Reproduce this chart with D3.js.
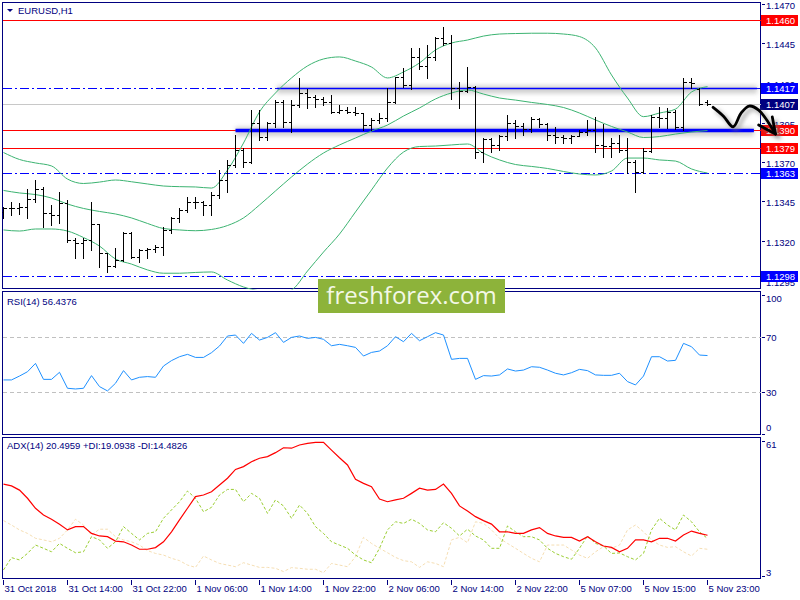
<!DOCTYPE html>
<html>
<head>
<meta charset="utf-8">
<script src="https://cdn.jsdelivr.net/npm/d3@7"></script>
<style>
  html, body { margin: 0; padding: 0; background: #fff; }
  svg { display: block; font-family: "Liberation Sans", Arial, sans-serif; }
</style>
</head>
<body>
<div id="chart"></div>
<script>
//********************************************************************//
//
//                    DATA (EURUSD H1)
//
//*******************************************************************//

  var barOpen = [
    1.13384, 1.13409, 1.13411, 1.13417, 1.13466, 1.13527, 1.13375, 1.13365, 1.13439, 1.13206,
    1.13185, 1.13206, 1.13308, 1.13122, 1.13042, 1.13080, 1.13250, 1.13101, 1.13143, 1.13150,
    1.13164, 1.13270, 1.13344, 1.13396, 1.13449, 1.13445, 1.13430, 1.13491, 1.13586, 1.13681,
    1.13776, 1.13702, 1.13947, 1.13858, 1.13947, 1.14082, 1.13955, 1.14061, 1.14137, 1.14111,
    1.14099, 1.14082, 1.14018, 1.14029, 1.14018, 1.14008, 1.13934, 1.13966, 1.13977, 1.14080,
    1.14235, 1.14187, 1.14366, 1.14310, 1.14366, 1.14483, 1.14451, 1.14166, 1.14149, 1.14177,
    1.13765, 1.13845, 1.13808, 1.13866, 1.13945, 1.13930, 1.13907, 1.13970, 1.13939, 1.13871,
    1.13860, 1.13850, 1.13866, 1.13892, 1.13903, 1.13808, 1.13801, 1.13822, 1.13776, 1.13702,
    1.13639, 1.13772, 1.13983, 1.13977, 1.14018, 1.13923, 1.14208, 1.14160, 1.14080];

  var barHigh = [
    1.13413, 1.13449, 1.13442, 1.13527, 1.13586, 1.13544, 1.13428, 1.13512, 1.13459, 1.13217,
    1.13217, 1.13449, 1.13310, 1.13125, 1.13154, 1.13259, 1.13259, 1.13147, 1.13154, 1.13175,
    1.13291, 1.13354, 1.13407, 1.13480, 1.13480, 1.13452, 1.13512, 1.13649, 1.13713, 1.13871,
    1.13789, 1.14029, 1.14029, 1.13955, 1.14092, 1.14092, 1.14092, 1.14230, 1.14160, 1.14124,
    1.14113, 1.14124, 1.14061, 1.14050, 1.14050, 1.14012, 1.13977, 1.14008, 1.14166, 1.14240,
    1.14293, 1.14420, 1.14420, 1.14441, 1.14493, 1.14553, 1.14504, 1.14206, 1.14303, 1.14180,
    1.13850, 1.13850, 1.13871, 1.13997, 1.13966, 1.13945, 1.13987, 1.13977, 1.13945, 1.13923,
    1.13871, 1.13871, 1.13903, 1.13966, 1.13987, 1.13939, 1.13850, 1.13871, 1.13850, 1.13713,
    1.13787, 1.13997, 1.14050, 1.14040, 1.14029, 1.14230, 1.14230, 1.14166, 1.14092];

  var barLow = [
    1.13344, 1.13365, 1.13369, 1.13344, 1.13449, 1.13291, 1.13301, 1.13312, 1.13196, 1.13091,
    1.13091, 1.13143, 1.13034, 1.13006, 1.13035, 1.13075, 1.13091, 1.13069, 1.13091, 1.13132,
    1.13111, 1.13249, 1.13322, 1.13385, 1.13407, 1.13365, 1.13365, 1.13470, 1.13512, 1.13670,
    1.13670, 1.13695, 1.13839, 1.13839, 1.13923, 1.13923, 1.13892, 1.14050, 1.14040, 1.14050,
    1.14061, 1.14008, 1.14008, 1.14008, 1.13997, 1.13903, 1.13903, 1.13945, 1.13960, 1.14073,
    1.14177, 1.14162, 1.14289, 1.14230, 1.14346, 1.14441, 1.14097, 1.14040, 1.14145, 1.13723,
    1.13702, 1.13765, 1.13776, 1.13839, 1.13850, 1.13871, 1.13892, 1.13923, 1.13839, 1.13822,
    1.13818, 1.13822, 1.13862, 1.13871, 1.13765, 1.13734, 1.13734, 1.13765, 1.13629, 1.13512,
    1.13630, 1.13765, 1.13923, 1.13913, 1.13907, 1.13903, 1.14166, 1.14061, 1.14061];

  var barClose = [
    1.13409, 1.13411, 1.13417, 1.13466, 1.13527, 1.13375, 1.13365, 1.13439, 1.13206, 1.13185,
    1.13206, 1.13308, 1.13122, 1.13042, 1.13080, 1.13250, 1.13101, 1.13143, 1.13150, 1.13164,
    1.13270, 1.13344, 1.13396, 1.13449, 1.13445, 1.13430, 1.13491, 1.13586, 1.13681, 1.13776,
    1.13702, 1.13947, 1.13858, 1.13947, 1.14082, 1.13955, 1.14061, 1.14137, 1.14111, 1.14099,
    1.14082, 1.14018, 1.14029, 1.14018, 1.14008, 1.13934, 1.13966, 1.13977, 1.14080, 1.14235,
    1.14187, 1.14366, 1.14310, 1.14366, 1.14483, 1.14451, 1.14166, 1.14149, 1.14177, 1.13765,
    1.13845, 1.13808, 1.13866, 1.13945, 1.13930, 1.13907, 1.13970, 1.13939, 1.13871, 1.13860,
    1.13850, 1.13866, 1.13892, 1.13903, 1.13808, 1.13801, 1.13822, 1.13776, 1.13702, 1.13639,
    1.13772, 1.13983, 1.13977, 1.14018, 1.13923, 1.14208, 1.14200, 1.14067, 1.14070];

  // Bollinger bands, read every second bar
  var bbStep = 2;
  var bbUpper = [
    1.13760, 1.13716, 1.13694, 1.13675, 1.13592, 1.13564, 1.13573, 1.13586, 1.13575, 1.13561,
    1.13548, 1.13544, 1.13542, 1.13535, 1.13649, 1.13820, 1.14017, 1.14137, 1.14232, 1.14308,
    1.14352, 1.14365, 1.14339, 1.14301, 1.14232, 1.14270, 1.14327, 1.14409, 1.14453, 1.14472,
    1.14497, 1.14510, 1.14513, 1.14515, 1.14515, 1.14510, 1.14494, 1.14422, 1.14251, 1.14105,
    1.13987, 1.14010, 1.14035, 1.14143, 1.14177];
  var bbMiddle = [
    1.13520, 1.13504, 1.13494, 1.13472, 1.13434, 1.13406, 1.13387, 1.13371, 1.13346, 1.13311,
    1.13279, 1.13270, 1.13265, 1.13273, 1.13298, 1.13346, 1.13428, 1.13517, 1.13605, 1.13687,
    1.13757, 1.13808, 1.13852, 1.13896, 1.13934, 1.13991, 1.14042, 1.14099, 1.14137, 1.14156,
    1.14130, 1.14105, 1.14092, 1.14077, 1.14064, 1.14045, 1.14010, 1.13966, 1.13925, 1.13890,
    1.13855, 1.13861, 1.13877, 1.13890, 1.13899];
  var bbLower = [
    1.13270, 1.13263, 1.13276, 1.13276, 1.13263, 1.13222, 1.13168, 1.13086, 1.13054, 1.13017,
    1.12996, 1.12996, 1.13001, 1.13004, 1.12953, 1.12909, 1.12884, 1.12865, 1.12890, 1.13010,
    1.13130, 1.13244, 1.13384, 1.13523, 1.13662, 1.13763, 1.13798, 1.13801, 1.13808, 1.13814,
    1.13755, 1.13713, 1.13684, 1.13672, 1.13659, 1.13640, 1.13624, 1.13618, 1.13643, 1.13725,
    1.13725, 1.13713, 1.13706, 1.13656, 1.13630];

  var rsiValues = [
    38.9, 38.9, 41.7, 44.8, 50.8, 39.3, 39.3, 44.4, 32.9, 32.4,
    32.9, 42.0, 34.1, 31.0, 36.5, 45.6, 38.9, 40.8, 41.3, 40.8,
    48.9, 52.8, 55.6, 57.3, 55.1, 55.1, 58.5, 63.3, 70.5, 71.2,
    65.2, 72.4, 67.6, 69.5, 72.9, 65.9, 69.5, 70.5, 68.8, 69.5,
    68.1, 63.5, 64.5, 63.5, 62.3, 56.1, 58.7, 59.7, 63.5, 70.0,
    66.4, 72.4, 67.1, 70.0, 72.9, 71.2, 53.7, 54.4, 54.4, 39.3,
    42.0, 41.7, 42.5, 46.8, 45.3, 46.0, 48.4, 48.0, 46.0, 43.7,
    42.5, 44.1, 46.5, 45.6, 42.5, 42.2, 42.2, 43.7, 37.7, 35.3,
    41.7, 55.6, 55.6, 52.5, 53.0, 65.2, 62.8, 56.8, 56.4376];

  var adxValues = [
    42.5, 41.7, 39.9, 36.4, 32.1, 29.2, 27.4, 25.2, 22.8, 24.2,
    24.2, 21.3, 20.2, 19.9, 18.0, 17.7, 16.3, 14.5, 14.5, 15.2,
    17.7, 22.0, 27.1, 32.1, 37.1, 37.8, 39.2, 42.1, 45.0, 48.8,
    50.0, 52.1, 53.6, 54.3, 56.0, 58.1, 57.9, 59.3, 60.0, 60.4,
    60.4, 57.1, 53.8, 50.7, 44.5, 42.8, 41.4, 36.1, 34.9, 35.7,
    36.4, 38.5, 40.7, 39.9, 40.2, 42.5, 38.5, 33.1, 30.9, 28.5,
    26.8, 25.3, 22.0, 22.0, 21.3, 21.3, 22.8, 23.8, 21.3, 20.2,
    19.6, 19.6, 18.0, 19.9, 17.7, 15.9, 15.3, 13.4, 14.9, 18.5,
    18.5, 17.7, 19.2, 19.2, 18.0, 20.6, 22.3, 21.3, 20.4959];

  var plusDI = [
    5.6, 10.9, 9.9, 12.7, 16.3, 14.9, 13.4, 17.0, 14.9, 13.0,
    13.4, 19.9, 18.5, 14.9, 17.7, 24.2, 21.3, 18.5, 21.3, 22.0,
    27.8, 31.4, 34.9, 39.5, 36.4, 30.6, 32.5, 37.8, 40.2, 40.2,
    34.9, 38.5, 36.4, 29.9, 35.7, 33.1, 27.8, 33.5, 29.9, 24.2,
    21.3, 17.7, 16.3, 14.9, 12.0, 9.9, 8.7, 14.9, 22.8, 26.3,
    25.6, 27.4, 25.6, 22.8, 22.0, 25.9, 23.5, 20.2, 23.1, 20.2,
    18.5, 14.9, 14.9, 24.5, 22.0, 19.9, 19.9, 18.5, 14.9, 12.7,
    11.3, 10.2, 14.9, 20.2, 17.0, 15.9, 12.7, 12.9, 11.3, 9.9,
    12.7, 22.8, 27.8, 24.9, 22.8, 29.2, 26.3, 22.0, 19.0938];

  var minusDI = [
    26.8, 24.9, 22.8, 21.3, 19.2, 18.5, 17.7, 19.2, 22.8, 27.4,
    24.9, 20.6, 23.1, 23.1, 19.9, 18.5, 17.7, 16.3, 13.9, 12.7,
    12.0, 10.6, 9.6, 7.7, 6.7, 11.6, 9.9, 8.4, 7.7, 7.0,
    8.7, 7.7, 6.7, 6.7, 6.3, 4.9, 6.6, 6.3, 5.9, 5.9,
    4.4, 8.4, 7.7, 7.0, 11.3, 19.6, 17.0, 14.9, 13.0, 11.0,
    9.6, 9.1, 6.7, 9.1, 8.4, 7.0, 18.5, 19.6, 17.3, 26.3,
    25.6, 22.8, 19.2, 17.0, 14.9, 12.7, 10.6, 9.1, 16.3, 16.3,
    16.3, 14.2, 12.0, 10.6, 13.4, 15.6, 14.9, 16.3, 22.8, 24.9,
    22.0, 18.5, 16.3, 15.3, 15.6, 13.4, 11.6, 14.9, 14.4826];

  // one time label every 8 bars
  var timeStep = 8;
  var timeLabels = ["31 Oct 2018", "31 Oct 14:00", "31 Oct 22:00", "1 Nov 06:00",
                    "1 Nov 14:00", "1 Nov 22:00", "2 Nov 06:00", "2 Nov 14:00",
                    "2 Nov 22:00", "5 Nov 07:00", "5 Nov 15:00", "5 Nov 23:00"];

  var priceTicks = [1.1470, 1.1445, 1.1420, 1.1395, 1.1370, 1.1345, 1.1320, 1.1295];
  var rsiTicks = [100, 70, 30, 0];
  var rsiLevels = [70, 30];
  var adxTicks = [61, 3];

  // horizontal levels drawn on the chart
  var levelPrices = [1.1460, 1.1417, 1.1407, 1.1390, 1.1379, 1.1363, 1.1298];
  var levelKinds  = ["red", "blue", "bid", "red", "red", "blue", "blue"];

  // trend segments (bar index from/to, price)
  var trendPrices = [1.1417, 1.1390];
  var trendFrom   = [34.2, 29.0];
  var trendTo     = [94.2, 93.8];
  var trendKinds  = ["thin", "thick"];

  // hand drawn forecast arrow (bar index, price)
  var arrowBars   = [88.7, 90.0, 91.2, 92.2, 93.2, 94.4, 96.5];
  var arrowPrices = [1.14046, 1.13990, 1.13923, 1.14010, 1.14054, 1.14028, 1.13877];
  var headBars    = [96.1, 96.5, 94.4];
  var headPrices  = [1.13985, 1.13877, 1.13934];

  var symbolTitle = "EURUSD,H1";
  var rsiTitle = "RSI(14) 56.4376";
  var adxTitle = "ADX(14) 20.4959 +DI:19.0938 -DI:14.4826";
  var watermark = "freshforex.com";

drawChart();

//********************************************************************//
//
//                    DRAWING
//
//*******************************************************************//
function drawChart() {

  var navy = "#000080";
  var width = 800, height = 600;
  var left = 2.5, right = 761.5;

  var mainP = {top: 2.5,   bottom: 289.5};
  var rsiP  = {top: 291.5, bottom: 435.5};
  var adxP  = {top: 437.5, bottom: 579.5};

  var svg = d3.select("#chart")
              .append("svg")
              .attr("width", width)
              .attr("height", height);

  var defs = svg.append("defs");

  // clip paths for the three windows
  [["clipMain", mainP], ["clipRsi", rsiP], ["clipAdx", adxP]].forEach(function(c) {
    defs.append("clipPath").attr("id", c[0])
        .append("rect")
        .attr("x", left).attr("y", c[1].top)
        .attr("width", right - left).attr("height", c[1].bottom - c[1].top);
  });

  // soft shadow used under the drawn objects
  defs.append("filter")
      .attr("id", "soft")
      .attr("filterUnits", "userSpaceOnUse")
      .attr("x", 0).attr("y", 0).attr("width", width).attr("height", height)
      .append("feGaussianBlur")
      .attr("stdDeviation", 2.2);

  // scales
  var x = d3.scaleLinear().domain([0, 88]).range([3.5, 707.5]);
  var yPrice = d3.scaleLinear().domain([1.1295, 1.1470]).range([280.5, 4]);
  var yRsi = d3.scaleLinear().domain([0, 100]).range([434, 295]);
  var yAdx = d3.scaleLinear().domain([3, 61]).range([576, 441]);

  // window frames
  [mainP, rsiP, adxP].forEach(function(p) {
    svg.append("rect")
       .attr("x", left).attr("y", p.top)
       .attr("width", right - left - 1).attr("height", p.bottom - p.top - 1)
       .attr("fill", "none")
       .attr("stroke", navy)
       .attr("stroke-width", 1)
       .style("shape-rendering", "crispEdges");
  });

  //---------------- main window ----------------
  var gMain = svg.append("g").attr("clip-path", "url(#clipMain)");

  // horizontal levels
  levelPrices.forEach(function(p, i) {
    var yy = Math.round(yPrice(p)) + 0.5;
    var kind = levelKinds[i];
    var ln = gMain.append("line")
                  .attr("x1", left).attr("x2", right)
                  .attr("y1", yy).attr("y2", yy)
                  .style("shape-rendering", "crispEdges");
    if (kind === "red") {
      ln.attr("stroke", "#ff0000");
    } else if (kind === "blue") {
      ln.attr("stroke", "#0000ff").attr("stroke-dasharray", "9,3,2,3");
    } else {
      ln.attr("stroke", "#c8c8c8");
    }
  });

  // trend segments with their shadow
  trendPrices.forEach(function(p, i) {
    var yy = Math.round(yPrice(p)) + 0.5;
    var thick = trendKinds[i] === "thick";
    gMain.append("line")
         .attr("x1", x(trendFrom[i])).attr("x2", x(trendTo[i]))
         .attr("y1", yy + 1).attr("y2", yy + 1)
         .attr("stroke", "#8a8a8a")
         .attr("stroke-opacity", 0.4)
         .attr("stroke-width", thick ? 9 : 8)
         .attr("filter", "url(#soft)");
  });
  trendPrices.forEach(function(p, i) {
    var yy = Math.round(yPrice(p)) + 0.5;
    var thick = trendKinds[i] === "thick";
    gMain.append("line")
         .attr("x1", x(trendFrom[i])).attr("x2", x(trendTo[i]))
         .attr("y1", yy).attr("y2", yy)
         .attr("stroke", "#0000ff")
         .attr("stroke-width", thick ? 3.5 : 1.6);
  });

  // Bollinger bands
  var bandLine = d3.line()
                   .x(function(d, i) { return x(i * bbStep); })
                   .y(function(d) { return yPrice(d); })
                   .curve(d3.curveMonotoneX);
  [bbUpper, bbMiddle, bbLower].forEach(function(band) {
    gMain.append("path")
         .attr("d", bandLine(band))
         .attr("fill", "none")
         .attr("stroke", "#3cb371")
         .attr("stroke-width", 1);
  });

  // OHLC bars
  var bars = gMain.append("g")
                  .attr("stroke", "#000")
                  .attr("stroke-width", 1)
                  .style("shape-rendering", "crispEdges");
  barOpen.forEach(function(o, i) {
    var bx = x(i);
    var yo = Math.round(yPrice(o)) + 0.5;
    var yc = Math.round(yPrice(barClose[i])) + 0.5;
    bars.append("line")
        .attr("x1", bx).attr("x2", bx)
        .attr("y1", Math.round(yPrice(barHigh[i])))
        .attr("y2", Math.round(yPrice(barLow[i])) + 1);
    bars.append("line").attr("x1", bx - 3).attr("x2", bx).attr("y1", yo).attr("y2", yo);
    bars.append("line").attr("x1", bx).attr("x2", bx + 3.5).attr("y1", yc).attr("y2", yc);
  });

  // price scale
  var axisG = svg.append("g")
                 .style("font-size", "9.5px")
                 .attr("fill", navy);
  priceTicks.forEach(function(p) {
    var yy = Math.round(yPrice(p)) + 0.5;
    svg.append("line")
       .attr("x1", right).attr("x2", right + 3)
       .attr("y1", yy).attr("y2", yy)
       .attr("stroke", navy)
       .style("shape-rendering", "crispEdges");
    axisG.append("text")
         .attr("x", 766).attr("y", yy + 1)
         .attr("dy", "0.35em")
         .text(p.toFixed(4));
  });

  // level price boxes on the scale
  var boxFill = {red: "#ff0000", blue: "#0000ff", bid: "#000080"};
  levelPrices.forEach(function(p, i) {
    var yy = Math.round(yPrice(p)) + 0.5;
    svg.append("rect")
       .attr("x", right - 0.5).attr("y", yy - 5.5)
       .attr("width", 37).attr("height", 11)
       .attr("fill", boxFill[levelKinds[i]]);
    svg.append("text")
       .attr("x", 766).attr("y", yy)
       .attr("dy", "0.35em")
       .attr("fill", "#fff")
       .style("font-size", "9.5px")
       .text(p.toFixed(4));
  });

  // forecast arrow, drawn over the scale boxes
  var arrowLine = d3.line()
                    .x(function(d) { return x(d[0]); })
                    .y(function(d) { return yPrice(d[1]); })
                    .curve(d3.curveCatmullRom.alpha(0.5));
  var arrowPts = arrowBars.map(function(b, i) { return [b, arrowPrices[i]]; });
  var headPts = headBars.map(function(b, i) { return [b, headPrices[i]]; });
  var headLine = d3.line()
                   .x(function(d) { return x(d[0]); })
                   .y(function(d) { return yPrice(d[1]); });

  var arrowShadow = svg.append("g")
                       .attr("transform", "translate(3,3)")
                       .attr("filter", "url(#soft)")
                       .attr("stroke", "#777")
                       .attr("stroke-opacity", 0.6)
                       .attr("fill", "none")
                       .attr("stroke-width", 3.5);
  arrowShadow.append("path").attr("d", arrowLine(arrowPts));
  arrowShadow.append("path").attr("d", headLine(headPts));

  var arrow = svg.append("g")
                 .attr("stroke", "#000")
                 .attr("fill", "none")
                 .attr("stroke-width", 2.8)
                 .attr("stroke-linecap", "round")
                 .attr("stroke-linejoin", "round");
  arrow.append("path").attr("d", arrowLine(arrowPts));
  arrow.append("path").attr("d", headLine(headPts));

  // title
  svg.append("path")
     .attr("d", "M7,9 L13,9 L10,12 Z")
     .attr("fill", navy);
  svg.append("text")
     .attr("x", 18).attr("y", 14)
     .attr("fill", navy)
     .style("font-size", "9.5px")
     .text(symbolTitle);

  //---------------- RSI window ----------------
  var gRsi = svg.append("g").attr("clip-path", "url(#clipRsi)");
  rsiLevels.forEach(function(v) {
    var yy = Math.round(yRsi(v)) + 0.5;
    gRsi.append("line")
        .attr("x1", left).attr("x2", right)
        .attr("y1", yy).attr("y2", yy)
        .attr("stroke", "#c0c0c0")
        .attr("stroke-dasharray", "4,3")
        .style("shape-rendering", "crispEdges");
  });
  gRsi.append("path")
      .attr("d", d3.line()
                   .x(function(d, i) { return x(i); })
                   .y(function(d) { return yRsi(d); })(rsiValues))
      .attr("fill", "none")
      .attr("stroke", "#1e90ff")
      .attr("stroke-width", 1);

  rsiTicks.forEach(function(v) {
    var yy = Math.round(yRsi(v)) + 0.5;
    var ly = Math.max(rsiP.top + 7.5, Math.min(rsiP.bottom - 7.5, yy));
    svg.append("line")
       .attr("x1", right).attr("x2", right + 3)
       .attr("y1", yy).attr("y2", yy)
       .attr("stroke", navy)
       .style("shape-rendering", "crispEdges");
    axisG.append("text")
         .attr("x", 766).attr("y", ly)
         .attr("dy", "0.35em")
         .text(v);
  });

  svg.append("text")
     .attr("x", 7).attr("y", 305)
     .attr("fill", navy)
     .style("font-size", "9.5px")
     .text(rsiTitle);

  //---------------- ADX window ----------------
  var gAdx = svg.append("g").attr("clip-path", "url(#clipAdx)");
  var idxLine = d3.line()
                  .x(function(d, i) { return x(i); })
                  .y(function(d) { return yAdx(d); });

  gAdx.append("path")
      .attr("d", idxLine(minusDI))
      .attr("fill", "none")
      .attr("stroke", "#f5deb3")
      .attr("stroke-dasharray", "3,2");
  gAdx.append("path")
      .attr("d", idxLine(plusDI))
      .attr("fill", "none")
      .attr("stroke", "#9acd32")
      .attr("stroke-dasharray", "3,2");
  gAdx.append("path")
      .attr("d", idxLine(adxValues))
      .attr("fill", "none")
      .attr("stroke", "#ff0000")
      .attr("stroke-width", 1.2);

  adxTicks.forEach(function(v) {
    var yy = Math.round(yAdx(v)) + 0.5;
    var ly = Math.max(adxP.top + 7, Math.min(adxP.bottom - 7, yy));
    svg.append("line")
       .attr("x1", right).attr("x2", right + 3)
       .attr("y1", yy).attr("y2", yy)
       .attr("stroke", navy)
       .style("shape-rendering", "crispEdges");
    axisG.append("text")
         .attr("x", 766).attr("y", ly)
         .attr("dy", "0.35em")
         .text(v);
  });

  svg.append("text")
     .attr("x", 7).attr("y", 449)
     .attr("fill", navy)
     .style("font-size", "9.5px")
     .text(adxTitle);

  //---------------- time scale ----------------
  timeLabels.forEach(function(t, i) {
    var tx = x(i * timeStep);
    svg.append("line")
       .attr("x1", tx).attr("x2", tx)
       .attr("y1", adxP.bottom).attr("y2", adxP.bottom + 5)
       .attr("stroke", navy)
       .style("shape-rendering", "crispEdges");
    svg.append("text")
       .attr("x", tx + 1).attr("y", 592)
       .attr("fill", navy)
       .style("font-size", "9.5px")
       .text(t);
  });

  //---------------- watermark ----------------
  svg.append("rect")
     .attr("x", 318).attr("y", 279)
     .attr("width", 187).attr("height", 34)
     .attr("fill", "#8db33a");
  svg.append("text")
     .attr("x", 411.5).attr("y", 304)
     .attr("text-anchor", "middle")
     .attr("fill", "#f3f8e6")
     .style("font-family", "'Open Sans', sans-serif")
     .style("font-size", "24px")
     .text(watermark);
}
</script>
</body>
</html>
